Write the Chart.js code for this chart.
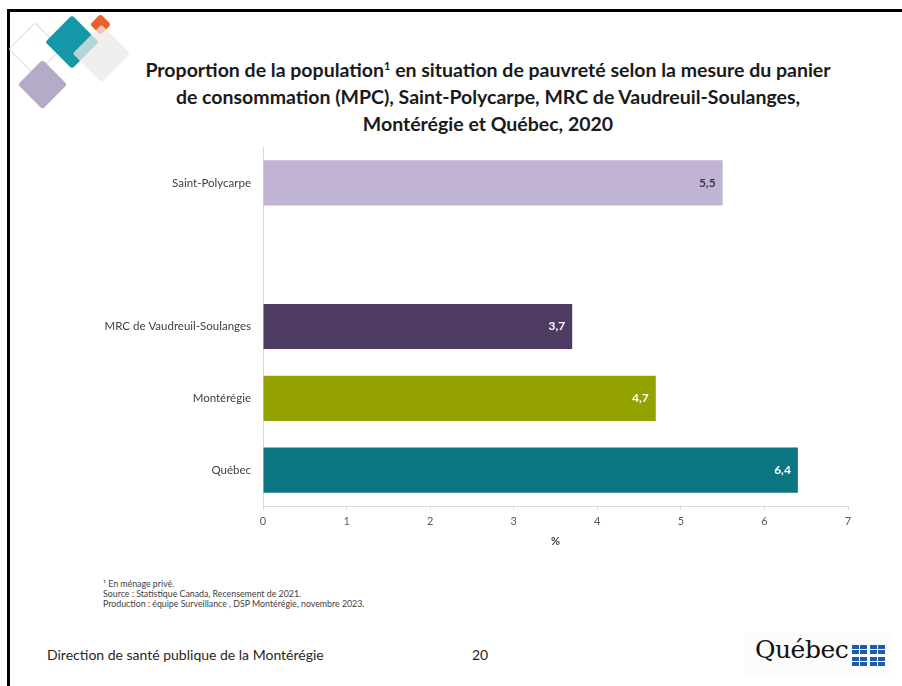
<!DOCTYPE html>
<html lang="fr">
<head>
<meta charset="utf-8">
<script src="https://cdn.jsdelivr.net/npm/chart.js@4.4.0/dist/chart.umd.min.js"></script>
<style>
    html, body { margin: 0; padding: 0; background: #fff; }
    body { width: 902px; height: 686px; position: relative; overflow: hidden; font-family: Lato, 'Open Sans', sans-serif; color: #404040; }
    .frame { position: absolute; left: 7px; top: 9px; right: -5px; bottom: -5px; border-top: 3px solid #000; border-left: 3px solid #000; }
    .dia { position: absolute; transform: rotate(45deg); border-radius: 3px; }
    .title { position: absolute; left: 100px; width: 776px; top: 56px; text-align: center; font-weight: bold; font-size: 19.5px; line-height: 27px; color: #1a1a1a; }
    .title sup { font-size: 11px; vertical-align: 7px; line-height: 0; }
    .notes { position: absolute; left: 103px; top: 579px; font-size: 8.8px; line-height: 10px; color: #404040; }
    .footer { position: absolute; top: 646px; font-size: 14px; color: #262626; }
    .logo { position: absolute; left: 745px; top: 632px; width: 148px; height: 42px; background: #fcfcfc; }
    .logo span { position: absolute; left: 10px; top: 3px; font-family: 'DejaVu Serif', serif; font-size: 25px; color: #111; letter-spacing: -0.5px; }
    .flag { position: absolute; width: 15px; height: 9px; background: #1f5aa6; }
    .flag::before { content: ''; position: absolute; left: 7px; top: 0; width: 1px; height: 9px; background: #fff; }
    .flag::after { content: ''; position: absolute; left: 0; top: 4px; width: 15px; height: 1px; background: #fff; }
    #wrap { position: absolute; left: 0; top: 140px; width: 902px; height: 420px; }
</style>
</head>
<body>
<div class="frame"></div>

<div class="dia" style="left:16px;top:30px;width:36px;height:36px;border:1.5px solid #d8ddd4;"></div>
<div class="dia" style="left:25px;top:67px;width:35px;height:35px;background:#b6aac9;"></div>
<div class="dia" style="left:53px;top:23px;width:38px;height:38px;background:#1497a7;"></div>
<div class="dia" style="left:93px;top:17px;width:15px;height:15px;background:#e8602a;"></div>
<div class="dia" style="left:81px;top:33px;width:41px;height:41px;background:rgba(236,233,231,0.75);"></div>

<div class="title">Proportion de la population<sup>1</sup> en situation de pauvreté selon la mesure du panier<br>de consommation (MPC), Saint-Polycarpe, MRC de Vaudreuil-Soulanges,<br>Montérégie et Québec, 2020</div>

<div id="wrap"><canvas id="chart" width="902" height="420"></canvas></div>

<div class="notes">¹ En ménage privé.<br>Source : Statistique Canada, Recensement de 2021.<br>Production : équipe Surveillance , DSP Montérégie, novembre 2023.</div>

<div class="footer" style="left:47px;">Direction de santé publique de la Montérégie</div>
<div class="footer" style="left:472px;">20</div>

<div class="logo">
    <span>Québec</span>
    <div class="flag" style="left:107px;top:13px;"></div>
    <div class="flag" style="left:125px;top:13px;"></div>
    <div class="flag" style="left:107px;top:25px;"></div>
    <div class="flag" style="left:125px;top:25px;"></div>
</div>

<script>
const categories = ['Saint-Polycarpe', '', 'MRC de Vaudreuil-Soulanges', 'Montérégie', 'Québec'];
const values = [5.5, null, 3.7, 4.7, 6.4];
const barColors = ['#c1b3d3', '#ffffff', '#4e3b62', '#94a200', '#0b7582'];
const labelColors = ['#3a3a48', '#ffffff', '#ffffff', '#ffffff', '#ffffff'];
const xTicks = [0, 1, 2, 3, 4, 5, 6, 7];

const fmt = v => v.toFixed(1).replace('.', ',');

// draws "5,5" etc. inside the end of each bar
const valueLabels = {
    id: 'valueLabels',
    afterDatasetsDraw(chart) {
        const ctx = chart.ctx;
        const meta = chart.getDatasetMeta(0);
        ctx.save();
        ctx.font = 'bold 12px Lato, sans-serif';
        ctx.textAlign = 'right';
        ctx.textBaseline = 'middle';
        meta.data.forEach((bar, i) => {
            if (values[i] == null) return;
            ctx.fillStyle = labelColors[i];
            ctx.fillText(fmt(values[i]), bar.x - 7, bar.y);
        });
        ctx.restore();
    }
};

const ctx = document.getElementById('chart').getContext('2d');
new Chart(ctx, {
    type: 'bar',
    data: {
        labels: categories,
        datasets: [{
            data: values,
            backgroundColor: barColors,
            borderWidth: 0,
            barPercentage: 0.63,
            categoryPercentage: 1
        }]
    },
    options: {
        indexAxis: 'y',
        responsive: false,
        animation: false,
        devicePixelRatio: 1,
        layout: { padding: { left: 0, right: 54, top: 7, bottom: 0 } },
        plugins: {
            legend: { display: false },
            tooltip: { enabled: false }
        },
        scales: {
            x: {
                min: xTicks[0],
                max: xTicks[xTicks.length - 1],
                afterBuildTicks: s => { s.ticks = xTicks.map(v => ({ value: v })); },
                afterFit: s => { s.height = 54; },
                grid: { drawOnChartArea: false, drawTicks: true, tickLength: 4, color: '#d9d9d9' },
                border: { display: true, color: '#d9d9d9' },
                ticks: { color: '#595959', font: { family: 'Lato', size: 11 }, padding: 5 },
                title: { display: true, text: '%', color: '#404040', font: { family: 'Lato', size: 11, weight: 'bold' }, padding: { top: 4, bottom: 12 } }
            },
            y: {
                afterFit: s => { s.width = 263; s.paddingTop = 0; s.paddingBottom = 0; },
                grid: { display: false, drawTicks: false },
                border: { display: true, color: '#d9d9d9' },
                ticks: { color: '#404040', font: { family: 'Lato', size: 11.5 }, padding: 12 }
            }
        }
    },
    plugins: [valueLabels]
});
</script>
</body>
</html>
